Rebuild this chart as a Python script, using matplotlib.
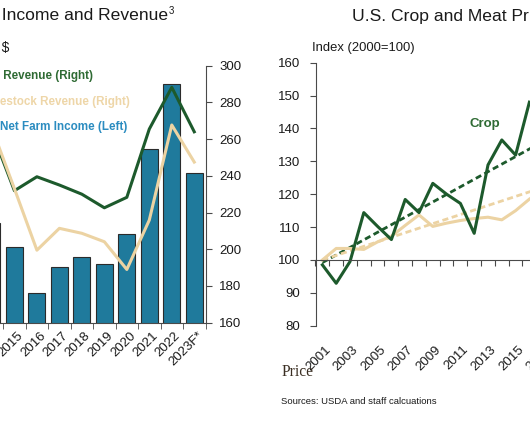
import numpy as np
import matplotlib
matplotlib.use('Agg')
from matplotlib import pyplot as plt
from matplotlib.transforms import ScaledTranslation

plt.rcParams['font.family'] = ['Liberation Sans', 'DejaVu Sans']

# left panel: net farm income (bars, left axis) and revenues (lines, right axis)
farm_years = ['2014', '2015', '2016', '2017', '2018', '2019', '2020', '2021', '2022', '2023F*']
net_income = [94.5, 81.1, 56.3, 70.5, 75.6, 72.2, 88.2, 134.7, 170.0, 121.4]
crop_revenue = [264, 231.9, 239.5, 235, 230, 222.6, 228.3, 265.5, 288.2, 264]
livestock_revenue = [266, 233, 199.5, 211.4, 208.7, 204.1, 189, 215.9, 267.7, 247.5]

# right panel: price indices (2000=100)
price_years = list(range(2001, 2017))
crop_index = [98.5, 92.9, 99.5, 114.4, 110.2, 106.2, 118.4, 114.4, 123.3, 120.0,
              117.2, 108.1, 128.9, 136.5, 131.9, 148.0]
meat_index = [100, 103.5, 103.5, 103.2, 105.5, 107.2, 110.5, 113.7, 110.2, 111.2,
              112.0, 112.6, 113.0, 112.2, 115.0, 118.5]
trend_years = [2001, 2016.5]
crop_trend = [99.2, 134.9]
meat_trend = [100, 121.4]
label_years = list(range(2001, 2022, 2))

green = '#1d5a2c'
tan = '#ecd3a3'
blue = '#1f7a9c'
axis_col = '#4a4a4a'
txt = '#1a1a1a'

W, H = 530, 443
fig = plt.figure(figsize=(W / 100, H / 100), dpi=100)


def box(x0, y0, x1, y1):
    # pixel box (from top left) -> figure fraction rect
    return [x0 / W, 1 - y1 / H, (x1 - x0) / W, (y1 - y0) / H]


def shift(labels, dx, dy=0):
    off = ScaledTranslation(dx / 100, dy / 100, fig.dpi_scale_trans)
    for lbl in labels:
        lbl.set_transform(lbl.get_transform() + off)


# ---- left panel ----
ax = fig.add_axes(box(-19.3, 65.7, 205.5, 322.7))
x = np.arange(len(farm_years))
ax.bar(x, net_income, width=0.75, color=blue, edgecolor='#2b2b2b', linewidth=0.8)
ax.set_ylim(40, 180)
ax.set_xlim(-0.5, len(farm_years) - 0.5)
ax.set_xticks(x)
ax.set_xticklabels(farm_years, rotation=45, ha='right', rotation_mode='anchor',
                   fontsize=9.5, color=txt)
ax.set_xticks(np.arange(-0.5, len(farm_years)), minor=True)
ax.tick_params(axis='x', which='major', length=0, pad=5)
ax.tick_params(axis='x', which='minor', length=4, direction='out', color=axis_col)
shift(ax.get_xticklabels(), 2.5)
for s in ['top', 'right', 'left']:
    ax.spines[s].set_visible(False)
ax.spines['bottom'].set_color(axis_col)
ax.set_yticks([])

ax2 = ax.twinx()
ax2.plot(x, crop_revenue, color=green, lw=2.2)
ax2.plot(x, livestock_revenue, color=tan, lw=2.2)
ax2.set_ylim(160, 300)
ax2.set_yticks(range(160, 301, 20))
ax2.tick_params(axis='y', length=4, pad=6, labelsize=9.5, color=axis_col, labelcolor=txt)
for s in ['top', 'left', 'bottom']:
    ax2.spines[s].set_visible(False)
ax2.spines['right'].set_color(axis_col)

fig.text(168 / W, 1 - 20.5 / H, 'Net Farm Income and Revenue', ha='right',
         va='baseline', fontsize=12.6, color=txt)
fig.text(169 / W, 1 - 14 / H, '3', ha='left', va='baseline', fontsize=7, color=txt)
fig.text(9 / W, 1 - 48 / H, 'Billions of $', ha='right', va='center', fontsize=10, color=txt)
fig.text(93 / W, 1 - 76 / H, 'Crop Revenue (Right)', ha='right', va='center',
         fontsize=8.4, fontweight='bold', color='#2f6b34')
fig.text(130 / W, 1 - 102 / H, 'Livestock Revenue (Right)', ha='right', va='center',
         fontsize=8.4, fontweight='bold', color='#eed6a8')
fig.text(127 / W, 1 - 127 / H, 'Net Farm Income (Left)', ha='right', va='center',
         fontsize=8.4, fontweight='bold', color='#2b8cc0')

# ---- right panel ----
bx = fig.add_axes(box(315.5, 62.7, 315.5 + 22 * 13.8, 325.7))
bx.plot(trend_years, crop_trend, color=green, lw=2, ls=(0, (2.2, 1.3)))
bx.plot(trend_years, meat_trend, color=tan, lw=2, ls=(0, (2.2, 1.3)))
bx.plot(price_years, meat_index, color=tan, lw=2.2)
bx.plot(price_years, crop_index, color=green, lw=2.2)
bx.set_xlim(2000.5, 2022.5)
bx.set_ylim(80, 160)
bx.set_yticks(range(80, 161, 10))
bx.tick_params(axis='y', length=4, pad=7, labelsize=9.5, color=axis_col, labelcolor=txt)
for s in ['top', 'right']:
    bx.spines[s].set_visible(False)
bx.spines['left'].set_color(axis_col)
bx.spines['bottom'].set_color(axis_col)
bx.spines['bottom'].set_position(('data', 100))
bx.set_xticks(np.arange(2000.5, 2023, 1))
bx.tick_params(axis='x', labelbottom=False, length=4, direction='out', color=axis_col)

sec = bx.secondary_xaxis('bottom')
sec.set_xticks(label_years)
sec.set_xticklabels([str(y) for y in label_years], rotation=45, ha='right',
                    rotation_mode='anchor', fontsize=9.5, color=txt)
sec.tick_params(axis='x', length=0, pad=13)
sec.spines['bottom'].set_visible(False)
shift(sec.get_xticklabels(), 2)

fig.text(352 / W, 1 - 20.5 / H, 'U.S. Crop and Meat Prices', ha='left',
         va='baseline', fontsize=12.6, color=txt)
fig.text(312 / W, 1 - 48 / H, 'Index (2000=100)', ha='left', va='center',
         fontsize=9.4, color=txt)
fig.text(485 / W, 1 - 124 / H, 'Crop', ha='center', va='center', fontsize=9.5,
         fontweight='bold', color='#2f6b34')
fig.text(281.5 / W, 1 - 376.5 / H, 'Price', ha='left', va='baseline', fontsize=11.2,
         family=['Liberation Serif', 'DejaVu Serif'], color='#3b2f23')
fig.text(281 / W, 1 - 401 / H, 'Sources: USDA and staff calcuations', ha='left',
         va='center', fontsize=6.8, color=txt)

fig.savefig('out.png', dpi=100)
